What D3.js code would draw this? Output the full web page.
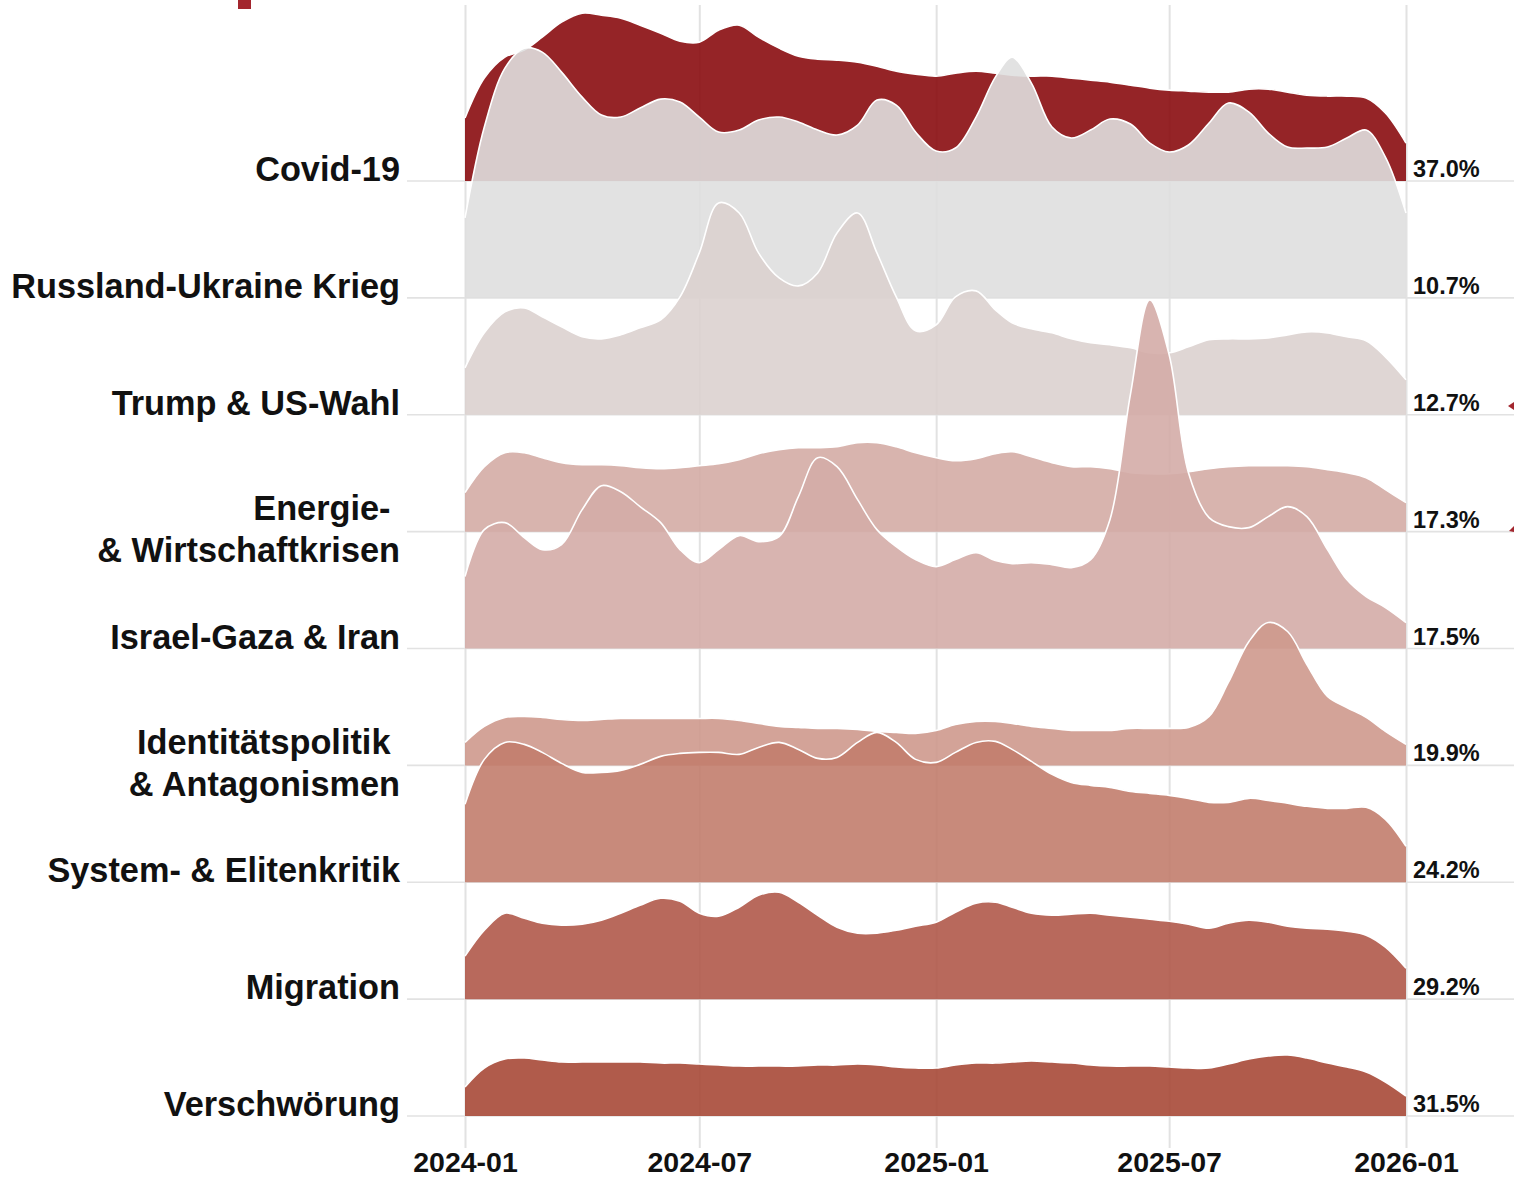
<!DOCTYPE html>
<html>
<head>
<meta charset="utf-8">
<script src="https://cdn.jsdelivr.net/npm/d3@7"></script>
<style>
  html, body { margin: 0; padding: 0; background: #ffffff; }
  svg { display: block; font-family: "Liberation Sans", Arial, sans-serif; }
  .lbl { white-space: pre; }
</style>
</head>
<body>
<svg id="chart" width="1514" height="1178"></svg>
<script>
// ---------- data ----------
const categories = [
  ["Covid-19"],
  ["Russland-Ukraine Krieg"],
  ["Trump & US-Wahl"],
  ["Energie- ", "& Wirtschaftkrisen"],
  ["Israel-Gaza & Iran"],
  ["Identitätspolitik ", "& Antagonismen"],
  ["System- & Elitenkritik"],
  ["Migration"],
  ["Verschwörung"]
];
const shares = [37.0, 10.7, 12.7, 17.3, 17.5, 19.9, 24.2, 29.2, 31.5];

const dates = [
  "2024-01-01","2024-01-16","2024-02-01","2024-02-16","2024-03-01","2024-03-16",
  "2024-04-01","2024-04-16","2024-05-01","2024-05-16","2024-06-01","2024-06-16",
  "2024-07-01","2024-07-16","2024-08-01","2024-08-16","2024-09-01","2024-09-16",
  "2024-10-01","2024-10-16","2024-11-01","2024-11-16","2024-12-01","2024-12-16",
  "2025-01-01","2025-01-16","2025-02-01","2025-02-16","2025-03-01","2025-03-16",
  "2025-04-01","2025-04-16","2025-05-01","2025-05-16","2025-06-01","2025-06-16",
  "2025-07-01","2025-07-16","2025-08-01","2025-08-16","2025-09-01","2025-09-16",
  "2025-10-01","2025-10-16","2025-11-01","2025-11-16","2025-12-01","2025-12-16",
  "2026-01-01"
];

// ridge intensities (relative, one row = 117 units)
const covid      = [63,103,124,131,144,159,168,166,163,156,148,140,139,151,156,144,133,125,122,121,119,115,110,107,105,108,110,108,106,105,105,103,101,99,96,93,91,90,89,89,92,92,89,86,85,85,83,68,38];
const russland   = [80,171,230,250,246,226,201,183,181,190,199,196,181,166,168,178,181,176,168,163,173,198,193,166,147,150,181,221,241,215,171,160,168,179,174,155,146,153,175,195,186,165,151,150,151,160,168,141,85];
const trump      = [47,82,103,107,98,88,78,76,80,87,95,118,162,212,202,162,137,129,142,182,202,162,118,84,90,118,124,105,92,86,82,76,72,70,67,62,62,68,75,76,76,77,80,83,82,78,74,58,35];
const energie    = [39,65,79,79,74,69,67,67,66,64,63,64,66,68,72,78,82,84,84,85,89,89,85,79,74,71,73,78,80,75,69,65,65,63,59,58,58,60,63,65,66,66,66,65,62,59,54,42,29];
const israel     = [72,119,126,111,99,104,139,163,157,142,126,99,86,99,113,107,112,152,191,182,149,119,102,89,82,89,96,88,85,86,84,81,89,129,255,349,294,176,131,122,121,132,142,132,99,69,52,41,26];
const identitaet = [23,39,48,49,48,46,45,46,47,47,47,47,47,47,45,42,39,38,37,37,36,34,33,32,35,41,44,44,42,39,37,35,35,35,37,37,37,38,49,83,124,143,134,101,69,58,48,34,21];
const system     = [78,123,140,138,130,119,110,110,112,118,126,129,130,130,128,135,140,133,124,125,140,150,140,123,120,130,140,141,133,121,108,100,97,95,91,89,87,84,80,80,84,82,79,76,74,74,75,63,36];
const migration  = [43,69,86,81,76,74,75,79,86,94,101,98,86,83,92,104,107,97,84,72,66,66,69,73,77,87,96,97,92,86,84,85,86,84,82,80,78,75,71,76,79,77,73,71,70,68,64,52,31];
const verschw    = [29,48,57,58,56,54,54,54,54,54,53,53,52,51,50,50,50,50,51,51,52,51,49,48,48,51,53,53,54,55,54,53,51,50,50,50,49,48,48,52,57,60,61,58,53,49,44,34,20];

const seriesValues = [covid, russland, trump, energie, israel, identitaet, system, migration, verschw];
const tickLabels = ["2024-01","2024-07","2025-01","2025-07","2026-01"];

// ---------- styles ----------
const colors = ["#8a0c10","#dfdfdf","#dbd1cf","#d4aca5","#d4aca7","#ce998d","#c27d6d","#b0594a","#a74937"];

// ---------- chart ----------
const svg = d3.select("#chart");
const parse = d3.timeParse("%Y-%m-%d");
const parsedDates = dates.map(parse);

const x = d3.scaleTime()
  .domain([parse("2024-01-01"), parse("2026-01-01")])
  .range([465, 1406]);

const rowIds = d3.range(categories.length);
const yBase = d3.scalePoint().domain(rowIds).range([181, 1116]);
const rowStep = yBase.step();
const h = d3.scaleLinear().domain([0, 117]).range([0, rowStep]);
const curve = d3.curveCatmullRom.alpha(0.5);

// vertical grid lines via axis
const tickDates = tickLabels.map(t => parse(t + "-01"));
const axisY = 1148;
const axis = d3.axisBottom(x)
  .tickValues(tickDates)
  .tickSize(-(axisY - 5))
  .tickFormat(d3.timeFormat("%Y-%m"));
const gAxis = svg.append("g").attr("transform", `translate(0,${axisY})`).call(axis);
gAxis.select(".domain").remove();
gAxis.selectAll(".tick line").attr("stroke", "#e2e2e2").attr("stroke-width", 2);
gAxis.selectAll(".tick text")
  .attr("y", 24).attr("dy", 0)
  .attr("fill", "#111")
  .attr("font-size", 28.5)
  .attr("font-weight", "bold")
  .attr("font-family", '"Liberation Sans", Arial, sans-serif');

// baselines
svg.append("g").selectAll("line").data(rowIds).join("line")
  .attr("x1", 407).attr("x2", 1514)
  .attr("y1", d => yBase(d)).attr("y2", d => yBase(d))
  .attr("stroke", "#e2e2e2").attr("stroke-width", 1.6);

// ridges
const ridges = svg.append("g");
rowIds.forEach(i => {
  const base = yBase(i);
  const pts = seriesValues[i].map((v, j) => ({ d: parsedDates[j], v }));
  const area = d3.area().x(p => x(p.d)).y0(base).y1(p => base - h(p.v)).curve(curve);
  const line = d3.line().x(p => x(p.d)).y(p => base - h(p.v)).curve(curve);
  const g = ridges.append("g");
  g.append("path").attr("d", area(pts)).attr("fill", colors[i]).attr("fill-opacity", 0.9);
  g.append("path").attr("d", line(pts)).attr("fill", "none").attr("stroke", "#ffffff").attr("stroke-width", 1.6);
});

// left labels
const labels = svg.append("g");
rowIds.forEach(i => {
  const base = yBase(i);
  const lines = categories[i];
  const t = labels.append("text").attr("class", "lbl")
    .attr("text-anchor", "end").attr("font-size", 34.3).attr("font-weight", "bold").attr("fill", "#111");
  if (lines.length === 1) {
    t.append("tspan").attr("x", 400).attr("y", base).text(lines[0]);
  } else {
    t.append("tspan").attr("x", 400).attr("y", base - 11.5).text(lines[0]);
    t.append("tspan").attr("x", 400).attr("y", base + 30.5).text(lines[1]);
  }
});

// right percentage labels
svg.append("g").selectAll("text").data(rowIds).join("text")
  .attr("x", 1413).attr("y", d => yBase(d) - 4)
  .attr("font-size", 23.5).attr("font-weight", "bold").attr("fill", "#111")
  .text(d => shares[d].toFixed(1) + "%");

// cut-off fragments at the edges
svg.append("rect").attr("x", 238).attr("y", 0).attr("width", 13).attr("height", 9).attr("fill", "#a3262e");
svg.append("path").attr("d", "M1508,406 L1514,402 L1514,410 Z").attr("fill", "#a3262e");
svg.append("path").attr("d", "M1509,531 L1514,526 L1514,532 Z").attr("fill", "#a3262e");
</script>
</body>
</html>
